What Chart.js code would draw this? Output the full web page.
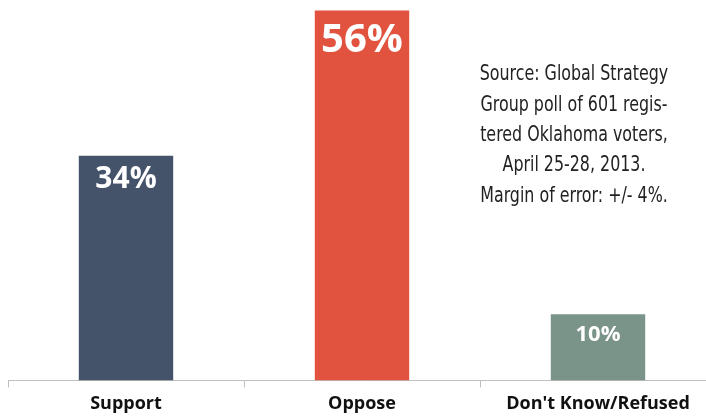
<!DOCTYPE html>
<html lang="en">
<head>
<meta charset="UTF-8">
<title>Poll</title>
<script src="https://cdn.jsdelivr.net/npm/chart.js"></script>
<style>
    html, body { margin: 0; padding: 0; overflow: hidden; background: #fff; }
</style>
</head>
<body>
<canvas id="grafico" width="716" height="421"></canvas>
<script>
    // dados
    var categorias = ["Support", "Oppose", "Don't Know/Refused"];
    var valores = [34, 56, 10];
    var cores = ["#44536a", "#e1533f", "#7b9489"];
    var fonteRotulo = [30, 40, 22];
    var deslocRotulo = [24, 30, 20];
    var fonte = [
        "Source: Global Strategy",
        "Group poll of 601 regis-",
        "tered Oklahoma voters,",
        "April 25-28, 2013.",
        "Margin of error: +/- 4%."
    ];

    const rotulos = {
        id: 'rotulos',
        afterDatasetsDraw(chart) {
            const ctx = chart.ctx;
            const meta = chart.getDatasetMeta(0);
            ctx.save();
            ctx.fillStyle = '#fff';
            ctx.textAlign = 'center';
            ctx.textBaseline = 'middle';
            meta.data.forEach(function (bar, i) {
                ctx.font = 'bold ' + fonteRotulo[i] + 'px "Open Sans"';
                ctx.fillText(valores[i] + '%', bar.x, bar.y + deslocRotulo[i]);
            });
            // texto da fonte (condensado na horizontal)
            ctx.fillStyle = '#222';
            ctx.font = '21px "DejaVu Sans Condensed", sans-serif';
            ctx.translate(574, 0);
            ctx.scale(0.84, 1);
            for (var j = 0; j < fonte.length; j++) {
                ctx.fillText(fonte[j], 0, 75 + j * 30.3);
            }
            ctx.restore();
        }
    };

    const chart = new Chart('grafico', {
        type: 'bar',
        data: {
            labels: categorias,
            datasets: [{
                data: valores,
                backgroundColor: cores,
                barPercentage: 0.4,
                categoryPercentage: 1
            }]
        },
        options: {
            responsive: false,
            animation: false,
            devicePixelRatio: 1,
            layout: { padding: { left: 8, right: 0, top: 0, bottom: 0 } },
            plugins: { legend: { display: false }, tooltip: { enabled: false } },
            scales: {
                y: { display: false, min: 0, max: 57.6 },
                x: {
                    grid: { drawOnChartArea: false, drawTicks: true, tickLength: 7, color: '#bfbfbf' },
                    border: { display: true, color: '#bfbfbf' },
                    ticks: {
                        color: '#111',
                        padding: 6,
                        font: { family: 'Open Sans', weight: 'bold', size: 18 }
                    }
                }
            }
        },
        plugins: [rotulos]
    });
</script>
</body>
</html>
